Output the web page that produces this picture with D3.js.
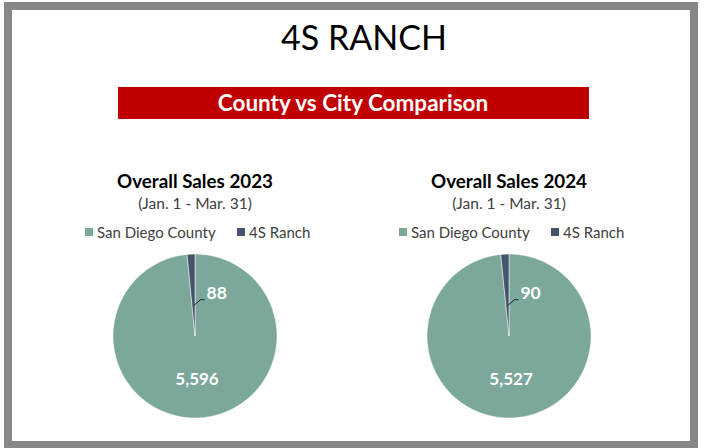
<!DOCTYPE html>
<html>
<head>
<meta charset="utf-8">
<script src="https://cdn.jsdelivr.net/npm/d3@7"></script>
<style>
  body { margin: 0; background: #fff; }
  text { font-family: Lato, "Open Sans", sans-serif; }
</style>
</head>
<body>
<script>
const categories = ["San Diego County", "4S Ranch"];
const years = ["2023", "2024"];
const sales2023 = [5596, 88];
const sales2024 = [5527, 90];
const colors = ["#7BA89B", "#44546A"];

const W = 704, H = 448;
const svg = d3.select('body')
    .append('svg')
    .attr('width', W)
    .attr('height', H)

// grey frame
svg.append('rect')
    .attr('x', 8).attr('y', 6)
    .attr('width', 686).attr('height', 439)
    .attr('fill', 'none')
    .attr('stroke', '#878787')
    .attr('stroke-width', 8)

svg.append('text')
    .attr('x', 364).attr('y', 50)
    .attr('text-anchor', 'middle')
    .attr('font-size', 34)
    .attr('fill', '#000')
    .text('4S RANCH')

svg.append('rect')
    .attr('x', 118).attr('y', 87)
    .attr('width', 471).attr('height', 32)
    .attr('fill', '#C00000')

svg.append('text')
    .attr('x', 353).attr('y', 102)
    .attr('text-anchor', 'middle')
    .attr('dominant-baseline', 'central')
    .attr('font-size', 22.5)
    .attr('font-weight', 'bold')
    .attr('fill', '#fff')
    .text('County vs City Comparison')

const color = d3.scaleOrdinal().domain(categories).range(colors);
const pie = d3.pie().sort(null);
const R = 82;
const arc = d3.arc().innerRadius(0).outerRadius(R);
const fmt = d3.format(',');

const panels = [
    { year: years[0], values: sales2023, cx: 195 },
    { year: years[1], values: sales2024, cx: 509 }
];

panels.forEach(p => {
    const g = svg.append('g').attr('transform', `translate(${p.cx},0)`);

    g.append('text')
        .attr('x', 0).attr('y', 188)
        .attr('text-anchor', 'middle')
        .attr('font-size', 18.8)
        .attr('font-weight', 'bold')
        .text('Overall Sales ' + p.year)

    g.append('text')
        .attr('x', 0).attr('y', 209)
        .attr('text-anchor', 'middle')
        .attr('font-size', 15.5)
        .attr('fill', '#404040')
        .text('(Jan. 1 - Mar. 31)')

    // legend
    const leg = g.append('g').attr('transform', 'translate(-110,232)');
    const legX = [0, 152];
    categories.forEach((c, i) => {
        leg.append('rect')
            .attr('x', legX[i]).attr('y', -4)
            .attr('width', 8).attr('height', 8)
            .attr('fill', color(c))
        leg.append('text')
            .attr('x', legX[i] + 12).attr('y', 0)
            .attr('dominant-baseline', 'central')
            .attr('font-size', 15)
            .attr('fill', '#404040')
            .text(c)
    });

    const arcs = pie(p.values);
    const pg = g.append('g').attr('transform', 'translate(0,336)');
    pg.selectAll('path')
        .data(arcs)
        .join('path')
        .attr('d', arc)
        .attr('fill', (d, i) => color(categories[i]))
        .attr('stroke', '#fff')
        .attr('stroke-width', 0.5)

    // big slice label
    const big = arcs[0];
    const c0 = arc.centroid(big);
    pg.append('text')
        .attr('x', c0[0]).attr('y', 42)
        .attr('text-anchor', 'middle')
        .attr('dominant-baseline', 'central')
        .attr('font-size', 17)
        .attr('font-weight', 'bold')
        .attr('fill', '#fff')
        .text(fmt(big.data))

    // small slice label with leader line
    const small = arcs[1];
    const mid = (small.startAngle + small.endAngle) / 2;
    const r0 = R * 0.37;
    const sx = Math.sin(mid) * r0, sy = -Math.cos(mid) * r0;
    const ex = sx + 11, ey = sy - 6;
    pg.append('path')
        .attr('d', `M${sx},${sy}L${ex - 4},${ey}L${ex},${ey}`)
        .attr('fill', 'none')
        .attr('stroke', '#222')
        .attr('stroke-width', 1)
    pg.append('text')
        .attr('x', ex + 2).attr('y', ey - 7)
        .attr('dominant-baseline', 'central')
        .attr('font-size', 17.5)
        .attr('font-weight', 'bold')
        .attr('fill', '#fff')
        .text(fmt(small.data))
});
</script>
</body>
</html>
